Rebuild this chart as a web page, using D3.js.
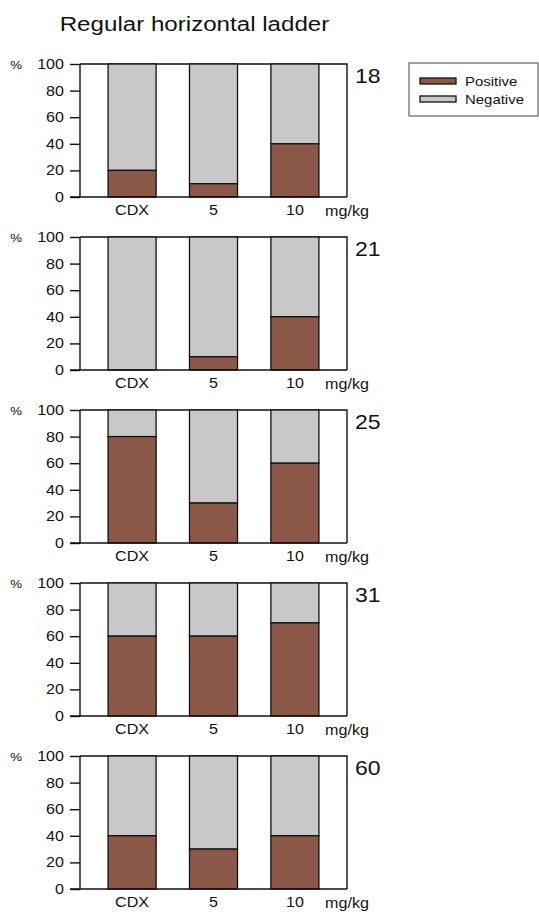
<!DOCTYPE html>
<html>
<head>
<meta charset="utf-8">
<script src="https://cdn.jsdelivr.net/npm/d3@7"></script>
<style>
  body { margin: 0; background: #fff; }
  svg text { font-family: "Liberation Sans", Arial, sans-serif; fill: #111; }
  .axis path, .axis line { stroke: #111; stroke-width: 1.4; }
</style>
</head>
<body>
<div id="chart"></div>
<script>
// data
var groups = ["CDX", "5", "10"];
var days = ["18", "21", "25", "31", "60"];
// % positive per day, per group (CDX, 5, 10)
var positive18 = [20, 10, 40];
var positive21 = [0, 10, 40];
var positive25 = [80, 30, 60];
var positive31 = [60, 60, 70];
var positive60 = [40, 30, 40];
var yTicks = [0, 20, 40, 60, 80, 100];
var seriesNames = ["Positive", "Negative"];

var panels = [positive18, positive21, positive25, positive31, positive60];

var width = 539, height = 912;
var colorPos = "#8b5848", colorNeg = "#c8c8c8";
var textStretch = 1.15; // the original text is a bit wider than Arial

// panel layout
var frameLeft = 80, frameRight = 347;
var panelTop = 64, panelHeight = 133, panelStep = 173;

// widen text horizontally without moving its anchor point
function stretch(sel) {
    sel.each(function() {
        var t = d3.select(this);
        var x0 = +t.attr("x") || 0;
        t.attr("x", x0 / textStretch)
            .attr("transform", "scale(" + textStretch + ",1)");
    });
}

var svg = d3.select("#chart")
    .append("svg")
    .attr("width", width)
    .attr("height", height);

svg.append("text")
    .attr("x", 194.5)
    .attr("y", 31)
    .attr("text-anchor", "middle")
    .style("font-size", "21px")
    .text("Regular horizontal ladder")
    .call(stretch);

var x = d3.scaleBand()
    .domain(groups)
    .range([frameLeft, frameRight])
    .paddingInner(0.41)
    .paddingOuter(0.345);

var y = d3.scaleLinear()
    .domain([0, 100])
    .range([panelHeight, 0]);

panels.forEach(function(vals, i) {
    var g = svg.append("g")
        .attr("transform", "translate(0," + (panelTop + i * panelStep) + ")");

    // frame top and right
    g.append("path")
        .attr("d", "M" + frameLeft + "," + y(100) + "H" + frameRight + "V" + y(0))
        .attr("fill", "none")
        .attr("stroke", "#111")
        .attr("stroke-width", 1.4);

    // negative part (full bar) then positive
    g.selectAll(".neg")
        .data(vals)
        .enter()
        .append("rect")
        .attr("class", "neg")
        .attr("x", function(d, j) { return x(groups[j]); })
        .attr("y", y(100))
        .attr("width", x.bandwidth())
        .attr("height", function(d) { return y(d) - y(100); })
        .attr("fill", colorNeg)
        .attr("stroke", "#111")
        .attr("stroke-width", 1.3);

    g.selectAll(".pos")
        .data(vals)
        .enter()
        .append("rect")
        .attr("class", "pos")
        .attr("x", function(d, j) { return x(groups[j]); })
        .attr("y", function(d) { return y(d); })
        .attr("width", x.bandwidth())
        .attr("height", function(d) { return y(0) - y(d); })
        .attr("fill", colorPos)
        .attr("stroke", "#111")
        .attr("stroke-width", 1.3);

    var yAxis = g.append("g")
        .attr("class", "axis")
        .attr("transform", "translate(" + frameLeft + ",0)")
        .call(d3.axisLeft(y).tickValues(yTicks).tickSize(10).tickPadding(6).tickSizeOuter(0));
    yAxis.select(".domain").remove();
    yAxis.append("line")
        .attr("y1", y(0)).attr("y2", y(100))
        .attr("stroke", "#111").attr("stroke-width", 1.4);
    yAxis.selectAll("text")
        .style("font-size", "14px")
        .style("font-family", "Liberation Sans, Arial, sans-serif")
        .attr("fill", "#111")
        .call(stretch);

    var xAxis = g.append("g")
        .attr("class", "axis")
        .attr("transform", "translate(0," + y(0) + ")")
        .call(d3.axisBottom(x).tickSize(0).tickPadding(8));
    xAxis.select(".domain")
        .attr("d", "M" + (frameLeft - 10) + ",0H" + frameRight);
    xAxis.selectAll("text")
        .style("font-size", "14px")
        .style("font-family", "Liberation Sans, Arial, sans-serif")
        .attr("fill", "#111")
        .call(stretch);

    g.append("text")
        .attr("x", 347)
        .attr("y", y(0) + 19)
        .attr("text-anchor", "middle")
        .style("font-size", "14px")
        .text("mg/kg")
        .call(stretch);

    g.append("text")
        .attr("x", 22)
        .attr("y", y(100) + 4.5)
        .attr("text-anchor", "end")
        .style("font-size", "11.5px")
        .text("%")
        .call(stretch);

    g.append("text")
        .attr("x", 355)
        .attr("y", y(100) + 19.5)
        .style("font-size", "20px")
        .text(days[i])
        .call(stretch);
});

// legend
var legend = svg.append("g").attr("transform", "translate(409,63)");
legend.append("rect")
    .attr("width", 129)
    .attr("height", 53)
    .attr("fill", "#fff")
    .attr("stroke", "#444")
    .attr("stroke-width", 1);

var items = legend.selectAll(".item")
    .data(seriesNames)
    .enter()
    .append("g")
    .attr("transform", function(d, i) { return "translate(11," + (18 + i * 18) + ")"; });

items.append("rect")
    .attr("y", -3)
    .attr("width", 36)
    .attr("height", 6)
    .attr("fill", function(d, i) { return i === 0 ? colorPos : colorNeg; })
    .attr("stroke", "#111")
    .attr("stroke-width", 1.3);

items.append("text")
    .attr("x", 45)
    .attr("y", 4.5)
    .style("font-size", "13px")
    .text(function(d) { return d; })
    .call(stretch);
</script>
</body>
</html>
